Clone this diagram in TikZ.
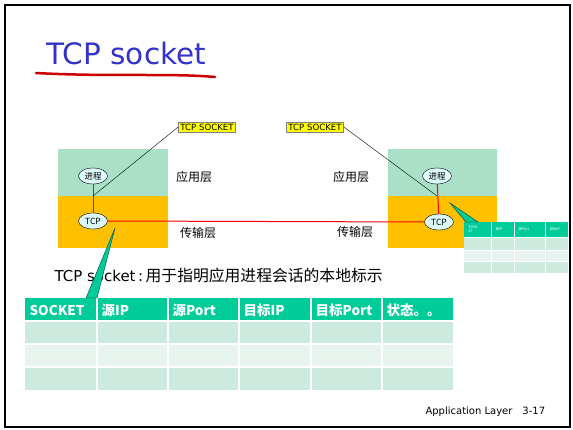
\documentclass[tikz,border=0pt]{standalone}
\usepackage{fontspec}
\setmainfont{DejaVu Sans}
\newfontfamily\cjk{Noto Sans CJK SC}
\usetikzlibrary{shapes.geometric}
\definecolor{titleblue}{RGB}{51,51,204}
\definecolor{appgreen}{RGB}{170,224,200}
\definecolor{tporange}{RGB}{255,192,0}
\definecolor{hdrteal}{RGB}{0,204,153}
\definecolor{rowa}{RGB}{204,235,222}
\definecolor{rowb}{RGB}{230,244,237}
\definecolor{procfill}{RGB}{221,250,250}
\definecolor{tagyellow}{RGB}{255,255,0}
\begin{document}
\begin{tikzpicture}[x=1pt,y=-1pt,
	proc/.style={ellipse,draw,fill=procfill,inner sep=0pt,minimum width=29pt,minimum height=16pt,font=\cjk\fontsize{8.5}{9}\selectfont},
	tag/.style={draw=gray,fill=tagyellow,inner sep=2pt,font=\fontsize{8.6}{9}\selectfont},
	layer/.style={font=\cjk\fontsize{12}{14}\selectfont},
	hdr/.style={anchor=west,text=white,font=\cjk\bfseries\fontsize{13.5}{15}\selectfont},
	mini/.style={anchor=west,text=white,align=left,font=\cjk\fontsize{3.5}{4}\selectfont},
	link/.style={red,line width=1pt},
	callout/.style={fill=hdrteal,draw=teal!50!black,line width=0.4pt}]
\useasboundingbox (0,0) rectangle (573,430);
\fill[white] (0,0) rectangle (573,430);

\node[anchor=base west,text=titleblue,font=\fontsize{29.5}{34}\selectfont] (title) at (43,65) {TCP socket};
\draw[red!80!black,line width=2.5pt,line cap=round] (36,73) .. controls (110,77) and (170,73) .. (215,77);

% the two protocol stacks
\fill[appgreen] (58,149) rectangle (168,196);
\fill[tporange] (58,196) rectangle (168,248);
\fill[appgreen] (388,149) rectangle (497,196);
\fill[tporange] (388,196) rectangle (497,248);

\node[proc] (procL) at (93,176) {进程};
\node[proc] (tcpL) at (93,221) {TCP};
\node[proc] (procR) at (437,176) {进程};
\node[proc] (tcpR) at (439,222) {TCP};
\draw[link] (procL) -- (tcpL);
\draw[link] (tcpL.east) -- (tcpR.west);
\draw[link] (procR) -- (tcpR);

\node[layer] (appL) at (194,177) {应用层};
\node[layer] (tpL) at (198,233) {传输层};
\node[layer] (appR) at (351,177) {应用层};
\node[layer] (tpR) at (355,232) {传输层};

\node[tag] (sockL) at (207,127) {TCP SOCKET};
\node[tag] (sockR) at (315,127) {TCP SOCKET};
\coordinate (jL) at (93,196);
\coordinate (jR) at (437,196);
\draw[line width=0.4pt] (sockL.west) -- (jL);
\draw[line width=0.4pt] (sockR.east) -- (jR);

\node[anchor=base west,font=\fontsize{15}{18}\selectfont] (note) at (51,282) {TCP socket\,:\,{\cjk\fontsize{15.8}{18}\selectfont 用于指明应用进程会话的本地标示}};

% socket table
\fill[hdrteal] (25,298) rectangle (453,321);
\fill[rowa] (25,321) rectangle (453,344);
\fill[rowb] (25,344) rectangle (453,367);
\fill[rowa] (25,367) rectangle (453,390);
\foreach \x in {97,168,239,311,382}
	\draw[white,line width=1.2pt] (\x,298) -- (\x,390);
\foreach \y in {321,344,367}
	\draw[white,line width=1.2pt] (25,\y) -- (453,\y);
\foreach \x/\t [count=\n] in {26/SOCKET,98/源IP,169/源Port,240/目标IP,312/目标Port,383/状态。。}
	\node[hdr] (h\n) at (\x,310) {\t};

% small copy of the table
\fill[hdrteal] (464,222) rectangle (568,237);
\fill[rowa] (464,237) rectangle (568,250);
\fill[rowb] (464,250) rectangle (568,261);
\fill[rowa] (464,261) rectangle (568,273);
\foreach \x in {491,514,545}
	\draw[white,line width=0.8pt] (\x,222) -- (\x,273);
\foreach \y in {237,250,261}
	\draw[white,line width=0.8pt] (464,\y) -- (568,\y);
\foreach \x/\t [count=\n] in {465/SOCK\\ET,492/源IP,515/源Port,546/目标IP}
	\node[mini] (s\n) at (\x,229.5) {\t};

\coordinate (tipL) at (115,228);
\coordinate (tipR) at (450,203);
\draw[callout] (tipL) -- (86,298) -- (97,298) -- cycle;
\draw[callout] (tipR) -- (466,222) -- (478,222) -- cycle;

\node[anchor=base west,font=\fontsize{10}{11}\selectfont] (foot) at (422,414) {Application Layer\quad 3-17};
\draw[line width=2pt] (5,5) rectangle (570,427);
\end{tikzpicture}
\end{document}
